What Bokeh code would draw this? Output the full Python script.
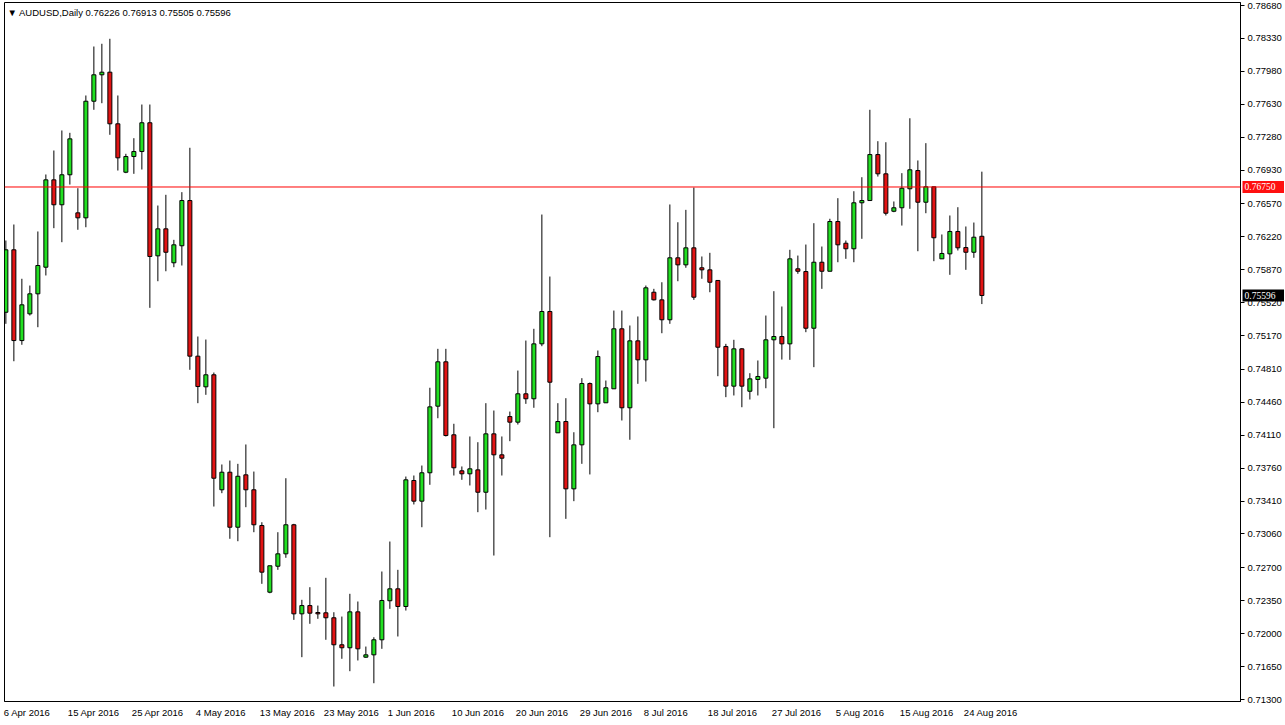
from bokeh.plotting import figure
from bokeh.models import (ColumnDataSource, Range1d, FixedTicker, PrintfTickFormatter,
                          CustomJSTickFormatter, Span, Label, GridBox)
from bokeh.embed import file_html
from bokeh.resources import INLINE

# ---------------- data (daily bars, broker with Sunday bars) ----------------
symbol = "AUDUSD,Daily"

opens = [0.75418, 0.76082, 0.75117, 0.75401, 0.75614, 0.75897, 0.76826, 0.76561, 0.76880, 0.76475,
         0.76422, 0.77662, 0.77943, 0.77971, 0.77422, 0.76907, 0.77074, 0.77127, 0.77433, 0.76018,
         0.76305, 0.75944, 0.76125, 0.76606, 0.74951, 0.74625, 0.74753, 0.73530, 0.73717, 0.73132,
         0.73689, 0.73530, 0.73150, 0.72441, 0.72717, 0.72849, 0.73158, 0.72211, 0.72299, 0.72225,
         0.72222, 0.72169, 0.71882, 0.71850, 0.72232, 0.71750, 0.71775, 0.71935, 0.72350, 0.72477,
         0.72289, 0.73629, 0.73409, 0.73711, 0.74419, 0.74891, 0.74115, 0.73732, 0.73700, 0.73742,
         0.73504, 0.74125, 0.73902, 0.74309, 0.74249, 0.74551, 0.74498, 0.75082, 0.75426, 0.74136,
         0.74256, 0.73540, 0.74008, 0.74660, 0.74444, 0.74455, 0.74604, 0.75242, 0.74402, 0.75114,
         0.74912, 0.75631, 0.75550, 0.75338, 0.75997, 0.75922, 0.76103, 0.75891, 0.75869, 0.75756,
         0.75054, 0.74632, 0.75029, 0.74578, 0.74703, 0.74717, 0.75125, 0.75160, 0.75082, 0.75880,
         0.75851, 0.75248, 0.75950, 0.75854, 0.76383, 0.76152, 0.76093, 0.76582, 0.76606, 0.77095,
         0.76890, 0.76492, 0.76529, 0.76731, 0.76925, 0.76588, 0.76752, 0.75986, 0.76039, 0.76277,
         0.76106, 0.76056, 0.76226]
highs = [0.76181, 0.76351, 0.75774, 0.75702, 0.76277, 0.76883, 0.77138, 0.77351, 0.77326, 0.76737,
         0.77723, 0.78244, 0.78273, 0.78326, 0.77723, 0.77103, 0.77269, 0.77627, 0.77627, 0.76553,
         0.76667, 0.76188, 0.76695, 0.77167, 0.75160, 0.75128, 0.74777, 0.73799, 0.73841, 0.73806,
         0.74012, 0.73724, 0.73185, 0.72722, 0.73079, 0.73653, 0.73168, 0.72360, 0.72494, 0.72299,
         0.72594, 0.72228, 0.72182, 0.72424, 0.72342, 0.71863, 0.71962, 0.72661, 0.72980, 0.72679,
         0.73671, 0.73682, 0.73788, 0.74615, 0.75029, 0.75029, 0.74232, 0.73778, 0.74097, 0.74036,
         0.74451, 0.74373, 0.74097, 0.74362, 0.74798, 0.75117, 0.75242, 0.76457, 0.75798, 0.74451,
         0.74504, 0.74142, 0.74717, 0.74671, 0.75011, 0.74692, 0.75436, 0.75436, 0.75277, 0.75373,
         0.75702, 0.75667, 0.75737, 0.76564, 0.76375, 0.76507, 0.76744, 0.76011, 0.76050, 0.75756,
         0.75082, 0.75125, 0.75036, 0.74770, 0.74905, 0.75383, 0.75642, 0.75479, 0.76082, 0.76021,
         0.76138, 0.76365, 0.76117, 0.76412, 0.76631, 0.76181, 0.76705, 0.76854, 0.77571, 0.77237,
         0.77226, 0.76596, 0.76897, 0.77481, 0.77032, 0.77216, 0.76752, 0.76245, 0.76447, 0.76535,
         0.76330, 0.76372, 0.76913]
lows = [0.75295, 0.74897, 0.75072, 0.75383, 0.75259, 0.75809, 0.76312, 0.76163, 0.76776, 0.76295,
        0.76322, 0.77571, 0.77641, 0.77305, 0.76925, 0.76897, 0.76890, 0.76936, 0.75465, 0.75748,
        0.75854, 0.75897, 0.75915, 0.74806, 0.74451, 0.74540, 0.73352, 0.73494, 0.73009, 0.72983,
        0.73345, 0.73079, 0.72530, 0.72430, 0.72679, 0.72807, 0.72147, 0.71750, 0.72105, 0.72158,
        0.71935, 0.71438, 0.71733, 0.71601, 0.71715, 0.71743, 0.71473, 0.71839, 0.72264, 0.71970,
        0.72246, 0.73374, 0.73132, 0.73583, 0.74291, 0.74097, 0.73682, 0.73636, 0.73576, 0.73292,
        0.73320, 0.72831, 0.73682, 0.74047, 0.74224, 0.74444, 0.74402, 0.75057, 0.73026, 0.74136,
        0.73221, 0.73409, 0.73806, 0.73693, 0.74355, 0.74455, 0.74604, 0.74267, 0.74062, 0.74657,
        0.74681, 0.75543, 0.75195, 0.75295, 0.75748, 0.75891, 0.75550, 0.75774, 0.75631, 0.74738,
        0.74515, 0.74533, 0.74408, 0.74490, 0.74533, 0.74610, 0.74185, 0.74915, 0.74912, 0.75827,
        0.75206, 0.74834, 0.75667, 0.75854, 0.75950, 0.75986, 0.75950, 0.76199, 0.76606, 0.76861,
        0.76447, 0.76482, 0.76340, 0.76518, 0.76067, 0.76471, 0.75961, 0.75986, 0.75816, 0.76075,
        0.75869, 0.75997, 0.75505]
closes = [0.76082, 0.75117, 0.75497, 0.75614, 0.75915, 0.76826, 0.76561, 0.76880, 0.77262, 0.76422,
          0.77662, 0.77943, 0.77971, 0.77422, 0.77060, 0.77074, 0.77127, 0.77433, 0.76011, 0.76305,
          0.76056, 0.76135, 0.76606, 0.74951, 0.74628, 0.74753, 0.73653, 0.73717, 0.73132, 0.73674,
          0.73530, 0.73158, 0.72654, 0.72722, 0.72849, 0.73158, 0.72211, 0.72299, 0.72218, 0.72211,
          0.72169, 0.71882, 0.71850, 0.72232, 0.71839, 0.71775, 0.71935, 0.72353, 0.72477, 0.72289,
          0.73636, 0.73409, 0.73711, 0.74412, 0.74891, 0.74107, 0.73764, 0.73700, 0.73753, 0.73504,
          0.74125, 0.73902, 0.73866, 0.74249, 0.74551, 0.74498, 0.75082, 0.75426, 0.74674, 0.74256,
          0.73540, 0.74008, 0.74660, 0.74444, 0.74947, 0.74615, 0.75242, 0.74402, 0.75114, 0.74912,
          0.75678, 0.75550, 0.75338, 0.75997, 0.75922, 0.76103, 0.75578, 0.75869, 0.75737, 0.75046,
          0.74632, 0.75029, 0.74632, 0.74710, 0.74735, 0.75125, 0.75160, 0.75082, 0.75986, 0.75854,
          0.75248, 0.75950, 0.75854, 0.76383, 0.76135, 0.76093, 0.76582, 0.76606, 0.77095, 0.76890,
          0.76471, 0.76529, 0.76737, 0.76933, 0.76588, 0.76752, 0.76210, 0.76043, 0.76277, 0.76103,
          0.76056, 0.76216, 0.75596]

date_labels = ["6 Apr 2016", "15 Apr 2016", "25 Apr 2016", "4 May 2016", "13 May 2016",
               "23 May 2016", "1 Jun 2016", "10 Jun 2016", "20 Jun 2016", "29 Jun 2016",
               "8 Jul 2016", "18 Jul 2016", "27 Jul 2016", "5 Aug 2016", "15 Aug 2016",
               "24 Aug 2016"]
bars_per_label = 8

price_ticks = [0.78680, 0.78330, 0.77980, 0.77630, 0.77280, 0.76930, 0.76570, 0.76220,
               0.75870, 0.75520, 0.75170, 0.74810, 0.74460, 0.74110, 0.73760, 0.73410,
               0.73060, 0.72700, 0.72350, 0.72000, 0.71650, 0.71300]

hline_price = 0.76750

# ---------------- styling / geometry ----------------
BULL = "#22e022"
BEAR = "#e21414"
FONT = "Liberation Sans"
FS_PX = 9.5
FS = "%.1fpx" % FS_PX

W, H = 1284, 724
LB, TB = 4, 2
FW = 1236                       # chart area width (8 px per bar)
FH = 699                        # chart area height
RB = W - LB - FW
BB = H - TB - FH
PX_PER_BAR = 8.0
X0 = -0.17
PPY = (price_ticks[0] - price_ticks[-1]) / 694.0
Y_TOP = price_ticks[0] + 3 * PPY
Y_BOT = Y_TOP - FH * PPY

n = len(opens)
src = ColumnDataSource(dict(
    x=list(range(n)),
    high=highs,
    low=lows,
    top=[max(o, c) for o, c in zip(opens, closes)],
    bottom=[min(o, c) for o, c in zip(opens, closes)],
    color=[BULL if c > o else BEAR for o, c in zip(opens, closes)],
))

# ---------------- main chart ----------------
p = figure(width=W, height=H,
           x_range=Range1d(X0, X0 + FW / PX_PER_BAR),
           y_range=Range1d(Y_BOT, Y_TOP),
           y_axis_location="right",
           output_backend="svg", toolbar_location=None,
           min_border_left=LB, min_border_right=RB, min_border_top=TB, min_border_bottom=BB,
           background_fill_color="white", border_fill_color="white")
p.grid.visible = False
p.outline_line_color = "black"
p.outline_line_width = 1

ya = p.yaxis[0]
ya.ticker = FixedTicker(ticks=price_ticks)
ya.formatter = PrintfTickFormatter(format="%.5f")
ya.major_label_text_font = FONT
ya.major_label_text_font_size = FS
ya.major_label_text_color = "black"
ya.major_tick_out = 4
ya.major_tick_in = 0
ya.minor_tick_out = 0
ya.minor_tick_in = 0
ya.major_label_standoff = 3
ya.axis_line_color = "black"
ya.major_tick_line_color = "black"

# time axis: MT4 writes each date starting at its bar, so the (centred) label is
# placed half a label-width to the right of the bar it belongs to
CW = {' ': 0.278, 'A': 0.667, 'p': 0.556, 'r': 0.333, 'M': 0.833, 'a': 0.556, 'y': 0.5,
      'J': 0.5, 'u': 0.556, 'n': 0.556, 'l': 0.222, 'g': 0.556}
def text_w(s):
    return sum(CW.get(ch, 0.556) for ch in s) * FS_PX

label_bar = [i * bars_per_label for i in range(len(date_labels))]
label_pos = [b + (text_w(t) / 2 - 2) / PX_PER_BAR for b, t in zip(label_bar, date_labels)]
xa = p.xaxis[0]
xa.ticker = FixedTicker(ticks=label_pos)
xa.formatter = CustomJSTickFormatter(args=dict(labels=date_labels),
                                     code="return labels[index] || '';")
xa.major_label_text_font = FONT
xa.major_label_text_font_size = FS
xa.major_label_text_color = "black"
xa.major_label_standoff = 2
xa.major_tick_out = 3
xa.major_tick_in = 0
xa.major_tick_line_color = None
xa.minor_tick_out = 0
xa.minor_tick_in = 0
xa.axis_line_color = "black"

p.add_layout(Span(location=hline_price, dimension="width", line_color="#ff0000", line_width=1))

p.segment(x0="x", y0="high", x1="x", y1="low", source=src, line_color="black", line_width=1)
p.vbar(x="x", width=0.5, top="top", bottom="bottom", source=src,
       fill_color="color", line_color="black", line_width=1)

title_txt = "\u25bc %s  %.5f %.5f %.5f %.5f" % (symbol, opens[-1], highs[-1], lows[-1], closes[-1])
p.add_layout(Label(x=3, y=FH - 4, x_units="screen", y_units="screen", text=title_txt,
                   text_align="left", text_baseline="top", text_font=FONT,
                   text_font_size=FS, text_color="black"))

# ---------------- transparent overlay for the price boxes on the axis ----------------
ov = figure(width=W, height=H,
            x_range=Range1d(X0 - LB / PX_PER_BAR, X0 + (W - LB) / PX_PER_BAR),
            y_range=Range1d(Y_BOT - BB * PPY, Y_TOP + TB * PPY),
            x_axis_location=None, y_axis_location=None,
            output_backend="svg", toolbar_location=None,
            min_border=0, min_border_left=0, min_border_right=0,
            min_border_top=0, min_border_bottom=0,
            background_fill_alpha=0, border_fill_alpha=0)
ov.grid.visible = False
ov.outline_line_color = None
if "frame_align" in ov.properties():
    ov.frame_align = False
    p.frame_align = False

box_prices = [hline_price, closes[-1]]
box_src = ColumnDataSource(dict(
    y=box_prices,
    text=["%.5f" % v for v in box_prices],
    fill=["#ff1010", "black"],
))
box_cx = X0 + (FW + 2 + 21) / PX_PER_BAR
box_tx = X0 + (FW + 4) / PX_PER_BAR
ov.rect(x=box_cx, y="y", width=42, height=12, width_units="screen", height_units="screen",
        source=box_src, fill_color="fill", line_color=None)
ov.text(x=box_tx, y="y", text="text", source=box_src, text_color="white",
        text_align="left", text_baseline="middle", text_font=FONT, text_font_size=FS)

layout = GridBox(children=[(p, 0, 0), (ov, 0, 0)])

open("out.html", "w").write(file_html(layout, INLINE))
